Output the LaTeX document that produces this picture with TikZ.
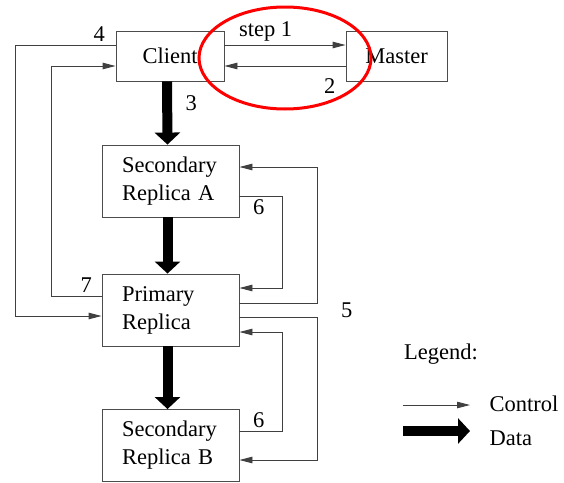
\documentclass[tikz,border=0pt]{standalone}
\usepackage{fontspec}
\setmainfont{Liberation Serif}
\usetikzlibrary{arrows.meta, calc, positioning}

\begin{document}
\begin{tikzpicture}[
	x=1pt, y=-1pt,
	font=\fontsize{22.5}{28}\selectfont,
	box/.style={draw=black!70, line width=.9pt, minimum height=50pt, inner sep=0pt},
	replica/.style={box, minimum width=137pt, minimum height=72pt, text width=97pt, align=left},
	ctrl/.style={draw=black!75, line width=.9pt, -{Triangle[length=13pt, width=6.5pt]}},
	data/.style={line width=10pt, -{Triangle[length=12pt, width=25pt]}}
	]
	
	\useasboundingbox (0,0) rectangle (564,482);
	
	\node[box, minimum width=108pt] (client) at (170, 56) {Client\hspace{8pt}};
	\node[box, minimum width=101pt] (master) at (396.5, 56) {Master\hspace{8pt}};
	\node[replica] (secA) at (170.5, 181) {Secondary\\Replica A};
	\node[replica] (primary) at (170.5, 310) {Primary\\Replica};
	\node[replica] (secB) at (170.5, 445.5) {Secondary\\Replica B};
	
	% Data flow
	\draw[data] ([xshift=-3pt]client.south) -- node[right=10pt, pos=.34] {3} ([xshift=-3pt]secA.north);
	\draw[data] ([xshift=-3pt]secA.south) -- ([xshift=-3pt]primary.north);
	\draw[data] ([xshift=-3pt]primary.south) -- ([xshift=-3pt]secB.north);
	
	% Client and master
	\draw[ctrl] ([yshift=11pt]client.east) -- node[above, pos=.34] {step 1} ([yshift=11pt]master.west);
	\draw[ctrl] ([yshift=-10pt]master.west) -- node[below=9pt, pos=.13] {2} ([yshift=-10pt]client.east);
	\draw[red, line width=3pt] (285, 58) ellipse [x radius=86, y radius=51];
	
	% Client and primary
	\draw[ctrl] ([yshift=11pt]client.west) node[above left, xshift=-7pt] {4} -- ++(-100,0) |- ([yshift=-6pt]primary.west);
	\draw[ctrl] ([yshift=14pt]primary.west) node[above left, xshift=-6pt] {7} -- ++(-50,0) |- ([yshift=-10pt]client.west);
	
	% Primary and secondaries
	\draw[ctrl] ([yshift=7pt]primary.east) -- ++(78,0) |- ([yshift=14pt]secA.east);
	\draw[ctrl] ([yshift=-15pt]secA.east) -- node[below, pos=.45] {6} ++(43,0) |- ([yshift=22pt]primary.east);
	\draw[ctrl] ([yshift=-7pt]primary.east) -- ++(78,0) node[anchor=west, xshift=20pt, yshift=7pt] {5} |- ([yshift=-14.5pt]secB.east);
	\draw[ctrl] ([yshift=14.5pt]secB.east) -- node[above, pos=.45] {6} ++(43,0) |- ([yshift=-22pt]primary.east);
	
	% Legend
	\node (legend) at (441, 354) {Legend:};
	\coordinate (ctrlA) at (403, 405);
	\coordinate (ctrlB) at (470, 405);
	\node[anchor=west] (ctrlTxt) at (486, 404) {Control};
	\draw[ctrl] (ctrlA) -- (ctrlB);
	\coordinate (dataA) at (403, 431);
	\coordinate (dataB) at (470, 431);
	\node[anchor=west] (dataTxt) at (486, 438) {Data};
	\draw[data] (dataA) -- (dataB);
\end{tikzpicture}
\end{document}
